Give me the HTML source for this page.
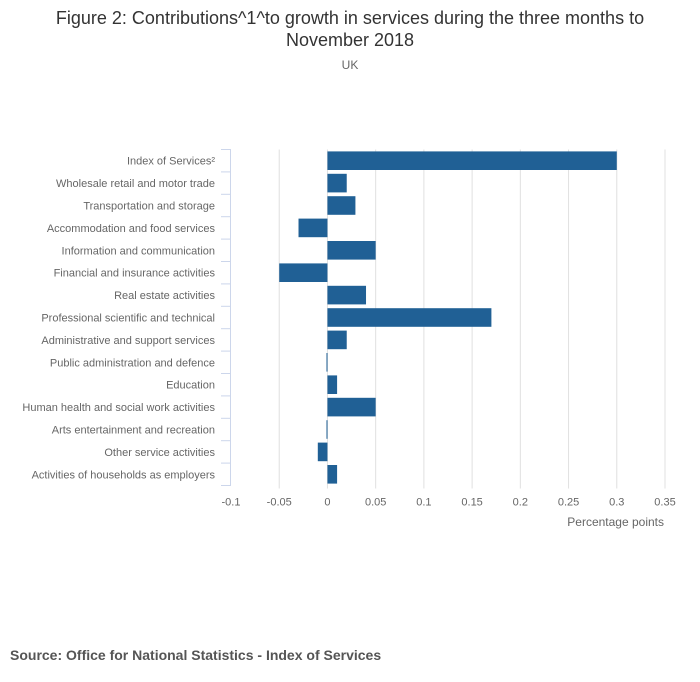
<!DOCTYPE html>
<html><head><meta charset="utf-8"><style>
body{margin:0;background:#fff;font-family:"Liberation Sans",sans-serif;}
svg{display:block}
</style></head><body>
<svg width="700" height="682">
<text x="350" y="24" text-anchor="middle" font-size="18" fill="#333">Figure 2: Contributions^1^to growth in services during the three months to</text>
<text x="350" y="46" text-anchor="middle" font-size="18" fill="#333">November 2018</text>
<text x="350" y="69" text-anchor="middle" font-size="12" fill="#666">UK</text>
<g id="grid"></g><g id="bars"></g><g id="yaxis"></g><g id="xaxis"></g>
<text x="664" y="526" text-anchor="end" font-size="12" fill="#666">Percentage points</text>
<text x="10" y="660" font-size="14" font-weight="bold" fill="#555">Source: Office for National Statistics - Index of Services</text>
</svg>
<script>
const categories=["Index of Services²","Wholesale retail and motor trade","Transportation and storage","Accommodation and food services","Information and communication","Financial and insurance activities","Real estate activities","Professional scientific and technical","Administrative and support services","Public administration and defence","Education","Human health and social work activities","Arts entertainment and recreation","Other service activities","Activities of households as employers"];
const values=[0.3,0.02,0.029,-0.03,0.05,-0.05,0.04,0.17,0.02,-0.001,0.01,0.05,-0.001,-0.01,0.01];
const ticks=[-0.1,-0.05,0,0.05,0.1,0.15,0.2,0.25,0.3,0.35];
const tickLabels=["-0.1","-0.05","0","0.05","0.1","0.15","0.2","0.25","0.3","0.35"];
const NS="http://www.w3.org/2000/svg";
const x0=231,x1=665,vmin=-0.1,vmax=0.35,yTop=149.5,step=22.4;
const X=v=>x0+(v-vmin)/(vmax-vmin)*(x1-x0);
const Y=i=>yTop+i*step;
function mk(t,a,p){const e=document.createElementNS(NS,t);for(const k in a)e.setAttribute(k,a[k]);p.appendChild(e);return e;}
const grid=document.getElementById('grid'),bars=document.getElementById('bars'),ya=document.getElementById('yaxis'),xa=document.getElementById('xaxis');
const bottom=Y(categories.length);
ticks.forEach((t,i)=>{
  if(i>0){const g=mk('line',{x1:X(t),x2:X(t),y1:yTop,y2:bottom+3,stroke:'#e0e0e0','stroke-width':1},grid);
  
  }
  const l=mk('text',{x:X(t),y:bottom+20,'text-anchor':'middle','font-size':11,fill:'#666'},xa);
  l.textContent=tickLabels[i];
  
  
});
const ax=mk('line',{x1:230.5,x2:230.5,y1:yTop,y2:bottom,stroke:'#ccd6eb','stroke-width':1},ya);


for(let i=0;i<=categories.length;i++){
  const t=mk('line',{x1:221,x2:231,y1:Y(i),y2:Y(i),stroke:'#ccd6eb','stroke-width':1},ya);
  
  
}
categories.forEach((c,i)=>{
  const cy=Y(i)+step/2;
  const l=mk('text',{x:215,y:cy+4,'text-anchor':'end','font-size':11,fill:'#666'},ya);
  l.textContent=c;
  
  
  const v=values[i],a=X(0),b=X(v);
  const r=mk('rect',{x:Math.min(a,b),y:cy-9.3,width:Math.max(Math.abs(b-a),1),height:18.6,fill:'#206095'},bars);
  
  
});
</script>
</body></html>
